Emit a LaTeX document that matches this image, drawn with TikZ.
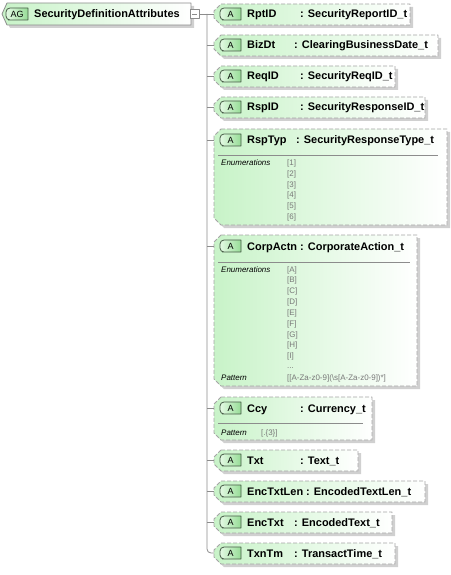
\documentclass[tikz,border=0pt]{standalone}
\usepackage{fontspec}
\setmainfont{Liberation Sans}

\definecolor{boxgreen}{RGB}{200,243,200}
\definecolor{badgegreen}{RGB}{150,220,150}
\definecolor{badgelight}{RGB}{228,250,228}
\definecolor{badgeedge}{RGB}{70,90,70}
\definecolor{edgegray}{RGB}{165,165,165}
\definecolor{shadowgray}{RGB}{208,208,208}
\definecolor{valuegray}{RGB}{120,120,120}
\definecolor{linegray}{RGB}{140,140,140}

\tikzset{
  attrname/.style={anchor=base west,inner sep=0pt,font=\fontsize{11}{13}\selectfont\bfseries},
  facetlabel/.style={anchor=base west,inner sep=0pt,font=\fontsize{8}{10}\selectfont\itshape},
  facetvalue/.style={anchor=base west,inner sep=0pt,text=valuegray,font=\fontsize{8}{10}\selectfont},
  badgetext/.style={inner sep=0pt,font=\fontsize{9}{10}\selectfont},
  frameedge/.style={draw=edgegray,line width=0.8bp,dash pattern=on 4bp off 2bp},
  connector/.style={draw=linegray,line width=0.8bp},
}

% dashed attribute frame: left x, right x, top y, bottom y
\newcommand{\attrframe}[4]{%
  \fill[shadowgray,shift={(3,3)}] (#1+7,#3) -- (#2,#3) -- (#2,#4) -- (#1+7,#4) -- (#1,#4-7) -- (#1,#3+7) -- cycle;
  \shade[left color=boxgreen,right color=white] (#1+7,#3) -- (#2,#3) -- (#2,#4) -- (#1+7,#4) -- (#1,#4-7) -- (#1,#3+7) -- cycle;
  \draw[frameedge] (#1+7,#3) -- (#2,#3) -- (#2,#4) -- (#1+7,#4) -- (#1,#4-7) -- (#1,#3+7) -- cycle;}
% badge: left x, right x, centre y
\newcommand{\attrbadge}[3]{%
  \shade[left color=badgelight,right color=badgegreen,draw=badgeedge,line width=0.8bp,rounded corners=4bp]
    (#1+6,#3-6) -- (#1,#3-6) -- (#1,#3+6) -- (#1+6,#3+6) [sharp corners] -- (#2,#3+6) -- (#2,#3-6) -- cycle;}

\begin{document}
\begin{tikzpicture}[x=1bp,y=-1bp,line join=bevel]
\useasboundingbox (0,0) rectangle (451,575);
%% attribute group
  \fill[shadowgray,shift={(3,3)}] (7,3) -- (191,3) -- (191,25) -- (7,25) -- (2,14) -- cycle;
  \shade[left color=boxgreen,right color=white] (7,3) -- (191,3) -- (191,25) -- (7,25) -- (2,14) -- cycle;
  \draw[draw=linegray,line width=0.8bp] (7,3) -- (191,3) -- (191,25) -- (7,25) -- (2,14) -- cycle;
  \attrbadge{6}{28}{14}
  \node[badgetext] (AG) at (17,14) {AG};
  \node[attrname] (SecurityDefinitionAttributes) at (34,18) {SecurityDefinitionAttributes};
  \node[draw=linegray,fill=white,minimum size=9bp,inner sep=0pt] (RootToggle) at (194.5,14) {};
  \draw[linegray] (192,14) -- (197,14);
%% attributes
  \attrframe{214}{410}{4}{25}
  \attrbadge{220}{241}{14}
  \node[badgetext] at (230.5,14) {A};
  \node[attrname] (RptID) at (247,18) {RptID};
  \node[attrname] (RptID-type) at (300,18) {: SecurityReportID\_t};
  \attrframe{214}{438}{35}{56}
  \attrbadge{220}{241}{45}
  \node[badgetext] at (230.5,45) {A};
  \node[attrname] (BizDt) at (247,49) {BizDt};
  \node[attrname] (BizDt-type) at (294,49) {: ClearingBusinessDate\_t};
  \attrframe{214}{395}{66}{87}
  \attrbadge{220}{241}{76}
  \node[badgetext] at (230.5,76) {A};
  \node[attrname] (ReqID) at (247,80) {ReqID};
  \node[attrname] (ReqID-type) at (300,80) {: SecurityReqID\_t};
  \attrframe{214}{425}{97}{118}
  \attrbadge{220}{241}{107}
  \node[badgetext] at (230.5,107) {A};
  \node[attrname] (RspID) at (247,111) {RspID};
  \node[attrname] (RspID-type) at (300,111) {: SecurityResponseID\_t};
  \attrframe{214}{447}{129}{225}
  \attrbadge{220}{241}{140}
  \node[badgetext] at (230.5,140) {A};
  \node[attrname] (RspTyp) at (247,144) {RspTyp};
  \node[attrname] (RspTyp-type) at (296,144) {: SecurityResponseType\_t};
  \draw[linegray,line width=0.8bp] (218,155) -- (438,155);
  \node[facetlabel] (RspTyp-enum) at (221,166) {Enumerations};
  \foreach \v [count=\i from 0] in {1,...,6}
    \node[facetvalue] (RspTyp-\v) at (287,166+10.6*\i) {[\v]};
  \attrframe{214}{417}{235}{386}
  \attrbadge{220}{241}{246}
  \node[badgetext] at (230.5,246) {A};
  \node[attrname] (CorpActn) at (247,250) {CorpActn};
  \node[attrname] (CorpActn-type) at (300,250) {: CorporateAction\_t};
  \draw[linegray,line width=0.8bp] (218,262) -- (410,262);
  \node[facetlabel] (CorpActn-enum) at (221,272) {Enumerations};
  \foreach \v [count=\i from 0] in {A,B,C,D,E,F,G,H,I}
    \node[facetvalue] (CorpActn-\v) at (287,272+10.85*\i) {[\v]};
  \node[facetvalue] (CorpActn-more) at (287,368) {...};
  \node[facetlabel] (CorpActn-pattern) at (221,380) {Pattern};
  \node[facetvalue] (CorpActn-regex) at (287,380) {[[A-Za-z0-9](\textbackslash s[A-Za-z0-9])*]};
  \attrframe{214}{372}{397}{440}
  \attrbadge{220}{241}{408}
  \node[badgetext] at (230.5,408) {A};
  \node[attrname] (Ccy) at (247,412) {Ccy};
  \node[attrname] (Ccy-type) at (300,412) {: Currency\_t};
  \draw[linegray,line width=0.8bp] (218,423) -- (363,423);
  \node[facetlabel] (Ccy-pattern) at (221,435) {Pattern};
  \node[facetvalue] (Ccy-regex) at (261,435) {[.\{3\}]};
  \attrframe{214}{358}{450}{471}
  \attrbadge{220}{241}{460}
  \node[badgetext] at (230.5,460) {A};
  \node[attrname] (Txt) at (247,464) {Txt};
  \node[attrname] (Txt-type) at (300,464) {: Text\_t};
  \attrframe{214}{425}{481}{502}
  \attrbadge{220}{241}{491}
  \node[badgetext] at (230.5,491) {A};
  \node[attrname] (EncTxtLen) at (247,495) {EncTxtLen};
  \node[attrname] (EncTxtLen-type) at (306,495) {: EncodedTextLen\_t};
  \attrframe{214}{392}{512}{533}
  \attrbadge{220}{241}{522}
  \node[badgetext] at (230.5,522) {A};
  \node[attrname] (EncTxt) at (247,526) {EncTxt};
  \node[attrname] (EncTxt-type) at (294,526) {: EncodedText\_t};
  \attrframe{214}{395}{543}{564}
  \attrbadge{220}{241}{553}
  \node[badgetext] at (230.5,553) {A};
  \node[attrname] (TxnTm) at (247,557) {TxnTm};
  \node[attrname] (TxnTm-type) at (294,557) {: TransactTime\_t};
%% tree
  \coordinate (Trunk) at (207,14);
  \coordinate (RptID-in) at (214,14);
  \coordinate (BizDt-in) at (214,45);
  \coordinate (ReqID-in) at (214,76);
  \coordinate (RspID-in) at (214,107);
  \coordinate (RspTyp-in) at (214,140);
  \coordinate (CorpActn-in) at (214,246);
  \coordinate (Ccy-in) at (214,408);
  \coordinate (Txt-in) at (214,460);
  \coordinate (EncTxtLen-in) at (214,491);
  \coordinate (EncTxt-in) at (214,522);
  \coordinate (TxnTm-in) at (214,553);
  \draw[connector] (RootToggle.east) -- (RptID-in);
  \draw[connector,rounded corners=4bp] (Trunk) |- (TxnTm-in);
  \foreach \n in {BizDt,ReqID,RspID,RspTyp,CorpActn,Ccy,Txt,EncTxtLen,EncTxt}
    \draw[connector] (Trunk |- \n-in) -- (\n-in);
%
\end{tikzpicture}
\end{document}
